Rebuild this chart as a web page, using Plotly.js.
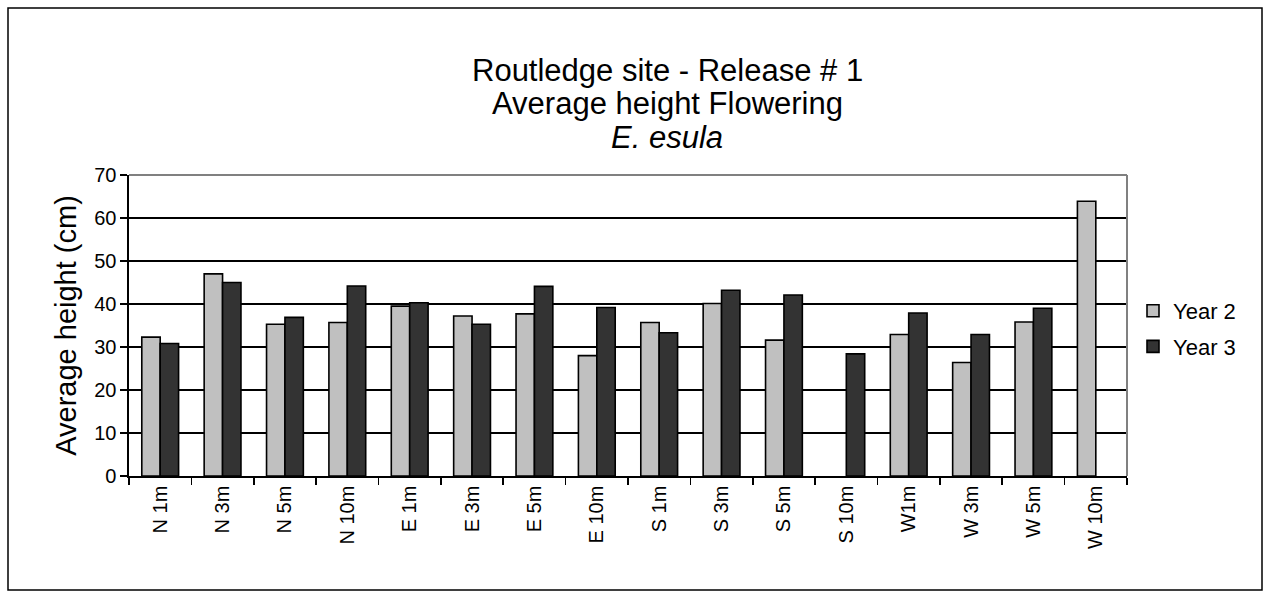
<!DOCTYPE html>
<html>
<head>
<meta charset="utf-8">
<script src="https://cdn.plot.ly/plotly-3.0.1.min.js"></script>
<style>html,body{margin:0;padding:0;background:#fff;}#chart{width:1270px;height:597px;}</style>
</head>
<body>
<div id="chart"></div>
<script>
const categories = ["N 1m","N 3m","N 5m","N 10m","E 1m","E 3m","E 5m","E 10m","S 1m","S 3m","S 5m","S 10m","W1m","W 3m","W 5m","W 10m"];
const year2 = [32.3, 47.0, 35.3, 35.7, 39.5, 37.2, 37.7, 28.0, 35.7, 40.1, 31.6, null, 32.9, 26.4, 35.8, 63.9];
const year3 = [30.8, 45.0, 36.9, 44.2, 40.3, 35.3, 44.1, 39.2, 33.3, 43.2, 42.1, 28.4, 37.9, 32.9, 39.0, null];
const seriesNames = ["Year 2", "Year 3"];
const titleLines = ["Routledge site - Release # 1", "Average height Flowering", "<i>E. esula</i>"];
const yTitle = "Average height (cm)";

const FONT = "Arial, 'Liberation Sans', sans-serif";
const L = 129, R = 1127, T = 175, B = 476, W = 1270, H = 597;

const traces = [
  {type: "bar", name: seriesNames[0], x: categories, y: year2, legendgroup: "a",
   marker: {color: "#c0c0c0", line: {color: "#000", width: 1.6}}},
  {type: "bar", name: seriesNames[1], x: categories, y: year3, legendgroup: "b",
   marker: {color: "#333333", line: {color: "#000", width: 1.6}}}
];

const px = (x) => (x - L) / (R - L);
const py = (y) => (B - y) / (B - T);

const titleY = [71, 104, 137];
const annotations = titleLines.map((t, i) => ({
  text: t, xref: "paper", yref: "paper",
  x: px(667), y: py(titleY[i]), xanchor: "center", yanchor: "middle",
  showarrow: false, font: {family: FONT, size: 31, color: "#000"}
}));

const layout = {
  width: W, height: H,
  margin: {l: L, r: W - R, t: T, b: H - B, pad: 0},
  paper_bgcolor: "#fff", plot_bgcolor: "#fff",
  font: {family: FONT, color: "#000", size: 20},
  barmode: "group",
  bargap: 0.41,
  bargroupgap: 0,
  showlegend: true,
  legend: {
    x: px(1133), y: py(290), xanchor: "left", yanchor: "top",
    font: {family: FONT, size: 22, color: "#000"},
    bgcolor: "rgba(0,0,0,0)", traceorder: "grouped", tracegroupgap: 4, itemwidth: 30
  },
  xaxis: {
    type: "category",
    tickangle: -90,
    tickson: "boundaries",
    ticks: "outside", ticklen: 7, tickwidth: 1.6, tickcolor: "#000",
    showline: true, linecolor: "#000", linewidth: 1.6,
    showgrid: false,
    tickfont: {family: FONT, size: 20, color: "#000"},
    fixedrange: true
  },
  yaxis: {
    range: [0, 70], dtick: 10, tick0: 0,
    ticks: "outside", ticklen: 7, tickwidth: 1.6, tickcolor: "#000",
    showline: true, linecolor: "#000", linewidth: 1.6,
    showgrid: true, gridcolor: "#000", gridwidth: 1.6,
    zeroline: false,
    tickfont: {family: FONT, size: 20, color: "#000"},
    title: {text: yTitle, font: {family: FONT, size: 29, color: "#000"}, standoff: 9},
    fixedrange: true
  },
  annotations: annotations,
  shapes: [
    {type: "line", xref: "paper", yref: "paper", x0: 0, x1: 1, y0: 1, y1: 1, line: {color: "#808080", width: 2}},
    {type: "line", xref: "paper", yref: "paper", x0: 1, x1: 1, y0: 0, y1: 1, line: {color: "#808080", width: 2}},
    {type: "rect", xref: "paper", yref: "paper", x0: px(8), x1: px(1262), y0: py(590), y1: py(8), line: {color: "#000", width: 1.5}, fillcolor: "rgba(0,0,0,0)", layer: "below"}
  ]
};

Plotly.newPlot("chart", traces, layout, {displayModeBar: false, staticPlot: true});
</script>
</body>
</html>
